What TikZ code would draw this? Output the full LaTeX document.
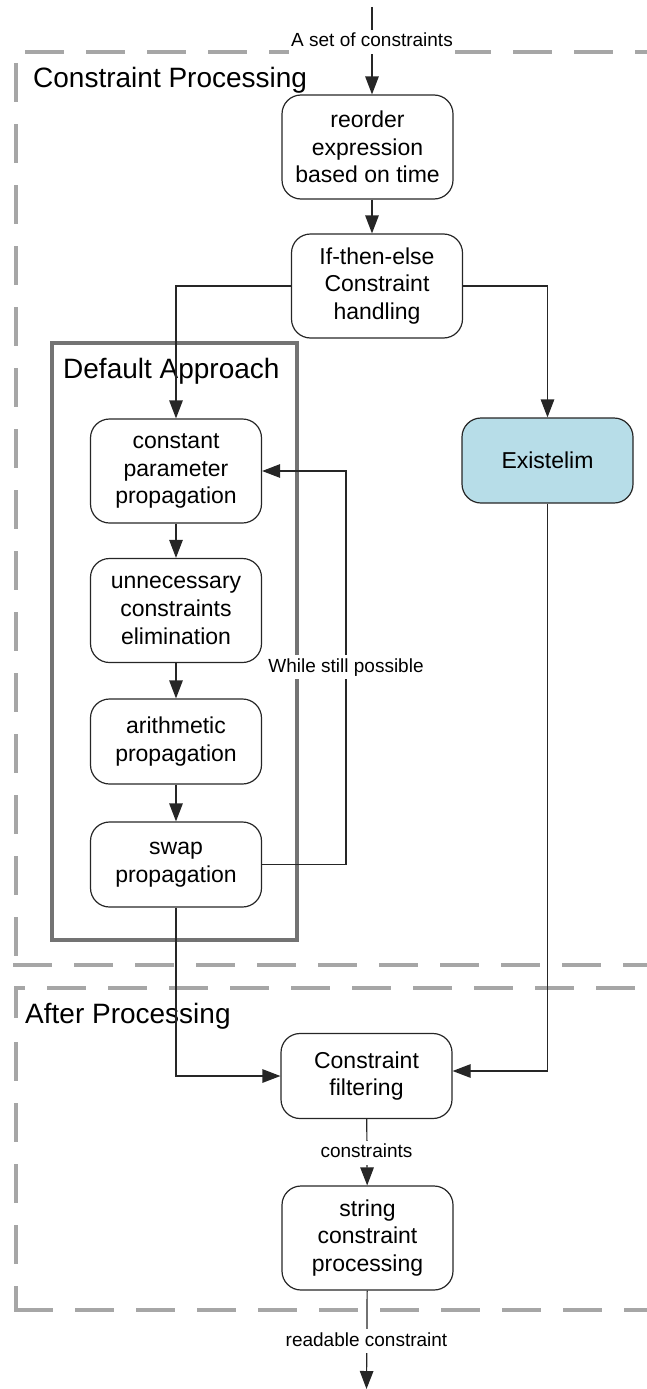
\documentclass[tikz,border=0pt]{standalone}
\usepackage{fontspec}
\setmainfont{Liberation Sans}
\usetikzlibrary{arrows.meta}
\newcommand\bxfont{\fontsize{23}{27.6}\selectfont}
\newcommand\ttlfont{\fontsize{28}{33}\selectfont}
\newcommand\lblfont{\fontsize{19}{22}\selectfont}
\definecolor{existblue}{RGB}{183,221,232}
\begin{document}
\begin{tikzpicture}[x=1pt,y=-1pt,
  stepbox/.style={draw=black!85, line width=1.2pt, rounded corners=19pt,
    minimum width=171pt, align=center, font=\bxfont, inner sep=0pt},
  tall/.style={minimum height=104pt},
  short/.style={minimum height=85pt},
  flow/.style={draw=black!85, line width=1.2pt, -{Triangle[length=18pt,width=13.5pt]}},
  lane/.style={draw=black!35, line width=4pt, dash pattern=on 39pt off 22pt},
  group/.style={draw=black!55, line width=3.5pt},
  title/.style={font=\ttlfont, anchor=base west, inner sep=0pt},
  tag/.style={font=\lblfont, fill=white, inner xsep=2pt, inner ysep=3pt,
    text height=14pt, text depth=4pt}
]
\useasboundingbox (0,0) rectangle (647,1389);

% swimlane borders
\draw[lane] (25,52) -- (700,52);
\draw[lane] (16,63) -- (16,958);
\draw[lane] (13,965) -- (700,965);
\draw[lane] (16,1018) -- (16,988) -- (700,988);
\draw[lane] (16,1042) -- (16,1310);
\draw[lane] (14,1310) -- (700,1310);

% default approach group
\draw[group] (52,343) rectangle (297,940);

% titles
\node[title] (cptitle) at (33,88) {Constraint Processing};
\node[title] (datitle) at (63,378) {Default Approach};
\node[title] (aptitle) at (25,1023) {After Processing};

% process steps
\node[stepbox,tall] (reorder) at (367.5,147) {reorder\\expression\\based on time};
\node[stepbox,tall] (ifthen) at (377,286) {If-then-else\\Constraint\\handling};
\node[stepbox,tall] (constant) at (176,471) {constant\\parameter\\propagation};
\node[stepbox,tall] (unneeded) at (176,610.5) {unnecessary\\constraints\\elimination};
\node[stepbox,short] (arith) at (176,741.5) {arithmetic\\propagation};
\node[stepbox,short] (swap) at (176,864.5) {swap\\propagation};
\node[stepbox,short,fill=existblue] (exist) at (547.5,460.5) {Existelim};
\node[stepbox,short] (filter) at (366.5,1076) {Constraint\\filtering};
\node[stepbox,tall] (strproc) at (367.5,1238) {string\\constraint\\processing};

% connectors
\coordinate (in) at (372,7);
\coordinate (out) at (366.5,1389);
\coordinate (loop) at (346,667);
\draw[flow] (in) -- (in |- reorder.north);
\draw[flow] (reorder.south -| in) -- (ifthen.north -| in);
\draw[flow] (ifthen.west) -| (constant.north);
\draw[flow] (ifthen.east) -| (exist.north);
\draw[flow] (constant) -- (unneeded);
\draw[flow] (unneeded) -- (arith);
\draw[flow] (arith) -- (swap);
\draw[flow] (swap.east) -| (loop) |- (constant.east);
\draw[flow] (swap.south) |- (filter.west);
\draw[flow] (exist.south) |- ([yshift=5pt]filter.east);
\draw[flow] (filter) -- (strproc);
\draw[flow] (strproc) -- (out);

% connector labels
\node[tag] (tagin) at (372,42) {A set of constraints};
\node[tag] (tagloop) at (loop) {While still possible};
\node[tag] (tagmid) at (366.5,1152.5) {constraints};
\node[tag] (tagout) at (366.5,1341) {readable constraint};
\end{tikzpicture}
\end{document}
